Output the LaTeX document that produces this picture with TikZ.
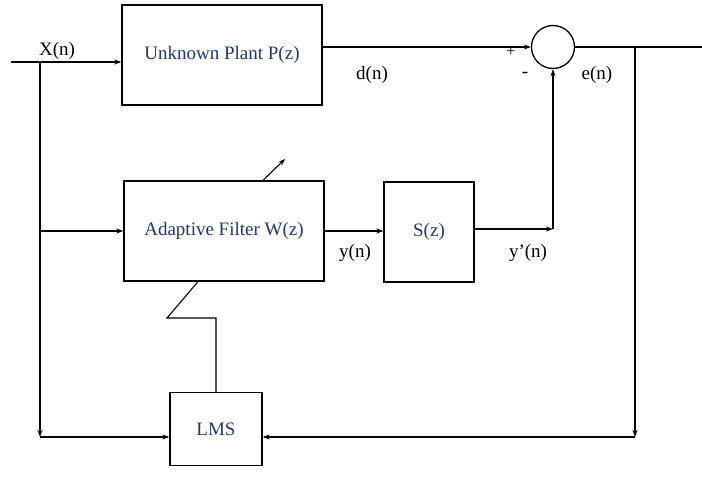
\documentclass[tikz,border=0pt]{standalone}
\usepackage{fontspec}
\setmainfont{Liberation Serif}
\usetikzlibrary{arrows.meta,calc}
\definecolor{boxtext}{RGB}{31,56,115}
\begin{document}
\begin{tikzpicture}[x=1pt,y=-1pt,
  blk/.style={draw,line width=1.3pt,inner sep=0pt,text=boxtext,font=\fontsize{19}{22}\selectfont},
  conn/.style={line width=1.1pt},
  arr/.style={line width=1.1pt,-{Stealth[length=7pt,width=5pt]}},
  lbl/.style={font=\fontsize{19}{22}\selectfont,inner sep=0pt}]
\useasboundingbox (0,0) rectangle (702,495);
% blocks
\node[blk,minimum width=200pt,minimum height=100pt] (plant) at (222,55) {Unknown Plant P(z)};
\node[blk,minimum width=200pt,minimum height=100pt] (filter) at (224,231) {Adaptive Filter W(z)};
\node[blk,minimum width=90pt,minimum height=100pt] (S) at (429,232) {S(z)};
\node[blk,minimum width=92pt,minimum height=73pt] (LMS) at (216,429) {LMS};
\node[draw,circle,line width=1.3pt,minimum size=43pt,inner sep=0pt] (sum) at (553,47) {};
% coordinates
\coordinate (in) at (11,62);
\coordinate (br1) at (40,62);
\coordinate (br3) at (40,437);
\coordinate (out) at (702,47);
\coordinate (eb) at (635,47);
\coordinate (eb2) at (635,437);
\coordinate (corner) at (553,229);
\coordinate (tipup) at (285,159);
\coordinate (zz1) at (167,318);
% connectors
\draw[arr] (in) -- (plant.west |- in);
\draw[arr] (br1) -- (br3);
\draw[arr] (br3) -- (LMS.west |- br3);
\draw[arr] (br1 |- filter.west) -- (filter.west);
\draw[arr] (plant.east |- sum.west) -- (sum.west);
\draw[conn] (sum.east) -- (out);
\draw[arr] (eb) -- (eb2);
\draw[arr] (eb2) -- (LMS.east |- eb2);
\draw[arr] (filter.east) -- (filter.east -| S.west);
\draw[arr] (S.east |- corner) -- (corner);
\draw[arr] (corner) -- (sum.south);
\draw[arr] ([xshift=39pt]filter.north) -- (tipup);
\draw[conn] ([xshift=-26pt]filter.south) -- (zz1) -- (LMS.north |- zz1) -- (LMS.north);
% labels
\node[lbl] (lx) at (57,51) {X(n)};
\node[lbl] (ld) at (372,75) {d(n)};
\node[lbl] (le) at (597,75) {e(n)};
\node[font=\fontsize{16}{18}\selectfont,inner sep=0pt] (lp) at (511,52) {+};
\node[lbl] (lm) at (525,75) {-};
\node[lbl] (ly) at (355,253) {y(n)};
\node[lbl] (lyp) at (528,253) {y’(n)};
\end{tikzpicture}
\end{document}
